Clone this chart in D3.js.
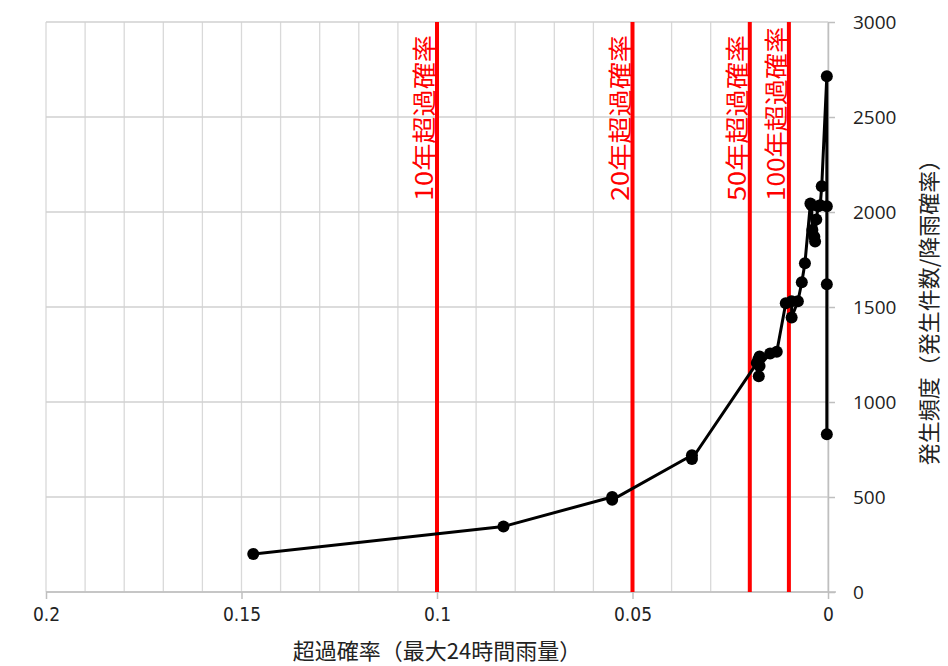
<!DOCTYPE html>
<html>
<head>
<meta charset="utf-8">
<script src="https://cdn.jsdelivr.net/npm/d3@7"></script>
<style>
	body { margin: 0; background: #fff; }
	svg text { font-family: "Noto Sans CJK JP", "Noto Sans", sans-serif; }
</style>
</head>
<body>
<div id="plot"></div>
<script>
// exceedance probability (x) and occurrence frequency (y), in drawing order
var probs = [0.147, 0.083, 0.0552, 0.0552, 0.0348, 0.0348, 0.0182, 0.0178, 0.0175, 0.0177, 0.0175,
	0.0148, 0.0131, 0.0108, 0.0093, 0.0093, 0.0077, 0.0067, 0.0059, 0.0045, 0.0042, 0.0040,
	0.0035, 0.0033, 0.0030, 0.0025, 0.0020, 0.0016, 0.0003, 0.0003, 0.0003, 0.0003];
var freqs = [200, 345, 500, 485, 720, 700, 1205, 1225, 1240, 1135, 1190,
	1255, 1265, 1520, 1530, 1445, 1530, 1630, 1730, 2045, 2035, 1905,
	1870, 1845, 1960, 2030, 2035, 2135, 2715, 2030, 1620, 830];

// return period reference lines
var refProbs = [0.1, 0.05, 0.02, 0.01];
var refLabels = ["10年超過確率", "20年超過確率", "50年超過確率", "100年超過確率"];

var xTicks = [0.2, 0.15, 0.1, 0.05, 0];
var yTicks = [0, 500, 1000, 1500, 2000, 2500, 3000];
var xTitle = "超過確率（最大24時間雨量）";
var yTitle = "発生頻度（発生件数/降雨確率）";

var dataset = probs.map(function (p, i) { return { p: p, f: freqs[i] }; });

var width = 948, height = 666;
var svg = d3.select("#plot").append("svg")
	.attr("width", width)
	.attr("height", height);

var xScale = d3.scaleLinear().domain([0.2, 0]).range([46, 828]);
var yScale = d3.scaleLinear().domain([0, 3000]).range([592, 22]);

//gridlines
svg.append("g")
	.selectAll("line")
	.data(d3.range(0, 21).map(function (i) { return i / 100; }))
	.enter().append("line")
	.attr("x1", function (d) { return xScale(d); })
	.attr("x2", function (d) { return xScale(d); })
	.attr("y1", yScale(0))
	.attr("y2", yScale(3000))
	.attr("stroke", "#d9d9d9")
	.attr("stroke-width", 1.3);

svg.append("g")
	.selectAll("line")
	.data(yTicks)
	.enter().append("line")
	.attr("x1", xScale(0.2))
	.attr("x2", xScale(0))
	.attr("y1", function (d) { return yScale(d); })
	.attr("y2", function (d) { return yScale(d); })
	.attr("stroke", "#d0d0d0")
	.attr("stroke-width", 1.3);

//x axis
var xAxis = svg.append("g")
	.attr("transform", "translate(0," + yScale(0) + ")")
	.call(d3.axisBottom(xScale).tickValues(xTicks).tickSize(7).tickSizeOuter(0)
		.tickFormat(function (d) { return d3.format("")(d); }));
xAxis.select(".domain").attr("stroke", "#bfbfbf").attr("stroke-width", 1.5)
	.attr("d", "M" + xScale(0.2) + ",0H" + (xScale(0) + 8));
xAxis.selectAll(".tick line").attr("stroke", "#bfbfbf").attr("stroke-width", 1.5);
xAxis.selectAll(".tick text")
	.attr("y", 16)
	.attr("fill", "#222")
	.style("font-family", "'DejaVu Sans Condensed', sans-serif")
	.style("font-size", "19px");

//y axis on the right
var yAxis = svg.append("g")
	.attr("transform", "translate(" + xScale(0) + ",0)")
	.call(d3.axisRight(yScale).tickValues(yTicks).tickSize(7).tickSizeOuter(0)
		.tickFormat(d3.format("d")));
yAxis.select(".domain").attr("stroke", "#bfbfbf").attr("stroke-width", 1.5);
yAxis.selectAll(".tick line").attr("stroke", "#bfbfbf").attr("stroke-width", 1.5);
yAxis.selectAll(".tick text")
	.attr("x", 25)
	.attr("fill", "#222")
	.style("font-family", "'Open Sans', sans-serif")
	.style("font-size", "19px");

//red reference lines
svg.append("g")
	.selectAll("line")
	.data(refProbs)
	.enter().append("line")
	.attr("x1", function (d) { return xScale(d); })
	.attr("x2", function (d) { return xScale(d); })
	.attr("y1", yScale(0))
	.attr("y2", yScale(3000))
	.attr("stroke", "#ff0000")
	.attr("stroke-width", 4);

svg.append("g")
	.selectAll("text")
	.data(refProbs)
	.enter().append("text")
	.attr("transform", function (d) { return "translate(" + (xScale(d) - 4) + "," + 201 + ") rotate(-90)"; })
	.attr("fill", "#ff0000")
	.style("font-size", "24px")
	.attr("textLength", function (d, i) { return i == 3 ? 174 : 166; })
	.attr("lengthAdjust", "spacingAndGlyphs")
	.text(function (d, i) { return refLabels[i]; });

//data line
var line = d3.line()
	.x(function (d) { return xScale(d.p); })
	.y(function (d) { return yScale(d.f); });

svg.append("path")
	.datum(dataset)
	.attr("d", line)
	.attr("fill", "none")
	.attr("stroke", "#000")
	.attr("stroke-width", 3)
	.attr("stroke-linejoin", "round");

svg.append("g")
	.selectAll("circle")
	.data(dataset)
	.enter().append("circle")
	.attr("cx", function (d) { return xScale(d.p); })
	.attr("cy", function (d) { return yScale(d.f); })
	.attr("r", 6)
	.attr("fill", "#000");

//axis titles
svg.append("text")
	.attr("x", 437)
	.attr("y", 659)
	.attr("text-anchor", "middle")
	.attr("fill", "#222")
	.style("font-size", "22px")
	.text(xTitle);

svg.append("text")
	.attr("transform", "translate(937,307) rotate(-90)")
	.attr("text-anchor", "middle")
	.attr("fill", "#222")
	.style("font-size", "22px")
	.text(yTitle);
</script>
</body>
</html>
